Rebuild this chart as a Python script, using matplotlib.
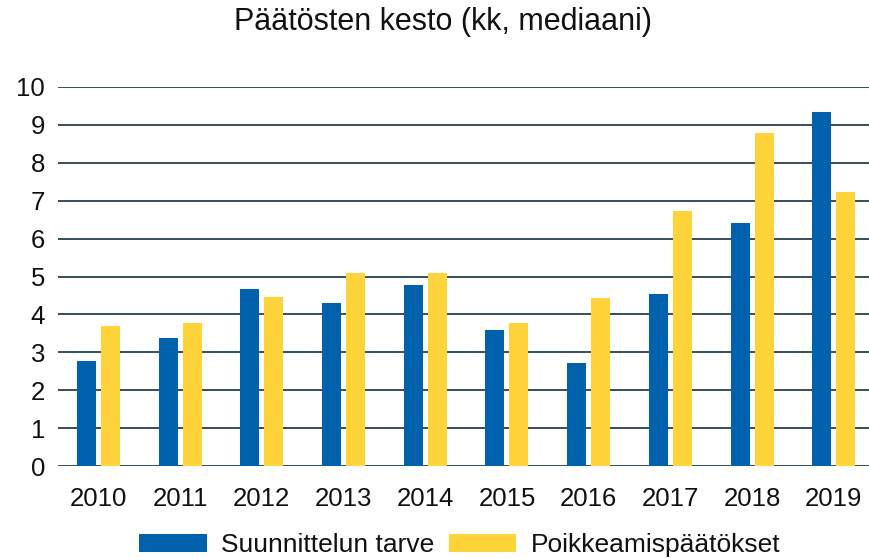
import matplotlib
matplotlib.use("Agg")
import matplotlib.pyplot as plt
import numpy as np

years = ["2010", "2011", "2012", "2013", "2014", "2015", "2016", "2017", "2018", "2019"]
suunnittelun_tarve = [2.78, 3.39, 4.66, 4.30, 4.78, 3.60, 2.73, 4.55, 6.42, 9.33]
poikkeamispaatokset = [3.70, 3.78, 4.47, 5.08, 5.10, 3.78, 4.44, 6.72, 8.78, 7.23]
series_names = ["Suunnittelun tarve", "Poikkeamispäätökset"]
title = "Päätösten kesto (kk, mediaani)"

plt.rcParams['font.family'] = ['Liberation Sans', 'DejaVu Sans']

W, H = 870, 558
fig = plt.figure(figsize=(W / 100, H / 100), dpi=100)
ax_left, ax_right = 57.6, 874.6
ax_top, ax_bot = 86.7, 466.3
ax = fig.add_axes([ax_left / W, 1 - ax_bot / H, (ax_right - ax_left) / W, (ax_bot - ax_top) / H])

x = np.arange(len(years))
bw = 0.2326
off = 0.147
blue = "#0062ad"
yellow = "#ffd43b"
ax.bar(x - off, suunnittelun_tarve, bw, color=blue, label=series_names[0], zorder=3)
ax.bar(x + off, poikkeamispaatokset, bw, color=yellow, label=series_names[1], zorder=3)

ax.set_xlim(-0.5, len(years) - 0.5)
ax.set_ylim(0, 10)
ax.set_yticks(range(0, 11))
ax.set_xticks(x)
ax.set_xticklabels(years)
ax.yaxis.grid(True, color="#34505a", linewidth=1.4, zorder=1)
ax.set_axisbelow(True)
for s in ax.spines.values():
    s.set_visible(False)
ax.tick_params(axis='both', length=0, labelsize=18.5, colors="#111111")
ax.tick_params(axis='y', pad=9)
ax.tick_params(axis='x', pad=15)

fig.text(443.5 / W, 1 - 22 / H, title, ha='center', va='center', fontsize=22, color="#111111")

leg = fig.legend(loc='center', bbox_to_anchor=(460 / W, 1 - 545 / H), ncol=2, frameon=False,
                 fontsize=19, handlelength=2.55, handleheight=0.7, handletextpad=0.55,
                 columnspacing=0.55, borderpad=0.1)
for t in leg.get_texts():
    t.set_color("#111111")

fig.savefig("out.png", dpi=100)
